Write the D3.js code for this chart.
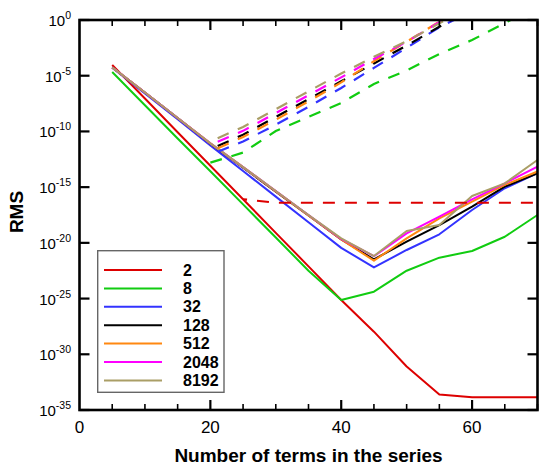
<!DOCTYPE html>
<html><head><meta charset="utf-8">
<script src="https://cdn.jsdelivr.net/npm/d3@7"></script>
<style>body{margin:0;background:#fff}svg{display:block}text{font-family:Arial,"Liberation Sans",Helvetica,sans-serif}</style>
</head><body>
<script>
// x: number of terms in the series
const terms = [5,10,15,20,25,30,35,40,45,50,55,60,65,70];
const seriesNames = ["2","8","32","128","512","2048","8192"];
// log10(RMS), solid lines
const solid2    = [-4.04,-7.05,-10.07,-13.08,-16.09,-19.1,-22.11,-25.13,-27.97,-31.1,-33.6,-33.86,-33.86,-33.86];
const solid8    = [-4.67,-7.65,-10.63,-13.58,-16.55,-19.52,-22.5,-25.13,-24.38,-22.5,-21.33,-20.73,-19.45,-17.5];
const solid32   = [-4.28,-6.6,-8.9,-11.25,-13.55,-15.85,-18.15,-20.45,-22.2,-20.64,-19.23,-17.05,-15.1,-13.75];
const solid128  = [-4.25,-6.5,-8.8,-11.1,-13.25,-15.4,-17.55,-19.7,-21.48,-19.9,-18.4,-16.75,-14.96,-13.76];
const solid512  = [-4.25,-6.5,-8.8,-11.07,-13.2,-15.38,-17.55,-19.7,-21.6,-19.6,-17.8,-16.3,-14.8,-13.6];
const solid2048 = [-4.25,-6.5,-8.8,-11.07,-13.2,-15.35,-17.5,-19.65,-21.2,-19.15,-17.65,-16.1,-14.66,-13.16];
const solid8192 = [-4.25,-6.5,-8.8,-11.07,-13.2,-15.35,-17.5,-19.6,-21.18,-18.94,-18.4,-15.8,-14.66,-12.56];
// log10(RMS), dashed lines (null = not drawn)
const dashed2    = [null,null,null,null,-16.09,-16.4,-16.4,-16.4,-16.4,-16.4,-16.4,-16.4,-16.4,-16.4];
const dashed8    = [null,null,null,-12.8,-11.9,-9.96,-8.7,-7.45,-5.74,-4.53,-3.05,-1.8,-0.27,1.2];
const dashed32   = [null,null,null,-12.1,-10.9,-9.4,-7.8,-6.1,-4.3,-2.5,-0.65,0.8,2.2,3.5];
const dashed128  = [null,null,null,-11.6,-10.3,-8.7,-7.1,-5.5,-3.9,-2.3,-0.6,1.0,2.5,3.5];
const dashed512  = [null,null,null,-11.8,-10.5,-8.95,-7.3,-5.6,-3.7,-1.95,-0.15,1.5,3,4];
const dashed2048 = [null,null,null,-11.2,-9.95,-8.35,-6.75,-5.15,-3.5,-1.95,-0.2,1.4,3,4];
const dashed8192 = [null,null,null,-10.9,-9.6,-8.0,-6.4,-4.8,-3.3,-1.9,-0.3,1.3,3,4];
const xTickLabels = [0,20,40,60];
const yTickExponents = [0,-5,-10,-15,-20,-25,-30,-35];

const solids = [solid2,solid8,solid32,solid128,solid512,solid2048,solid8192];
const dasheds = [dashed2,dashed8,dashed32,dashed128,dashed512,dashed2048,dashed8192];
const colors = ["#dd0000","#11cc11","#3333ff","#000000","#ff8811","#ff00ff","#aa9e66"];
const dashOffsets = [8,0,14,14,14,14,14];

const W=539,H=465, L=79.5, R=537.5, T=20, B=410;
const svg = d3.select("body").append("svg").attr("width",W).attr("height",H);
const x = d3.scaleLinear().domain([0,70]).range([L,R]);
const y = d3.scaleLog().domain([1e-35,1]).range([B,T]);

svg.append("clipPath").attr("id","clip").append("rect")
  .attr("x",L).attr("y",T).attr("width",R-L).attr("height",B-T);

const line = d3.line().defined(d=>d[1]!==null)
  .x(d=>x(d[0])).y(d=>y(Math.pow(10,d[1])));

const g = svg.append("g").attr("clip-path","url(#clip)");
solids.forEach((s,i)=>{
  g.append("path").attr("d",line(terms.map((t,j)=>[t,s[j]])))
    .attr("fill","none").attr("stroke",colors[i]).attr("stroke-width",2)
    .attr("stroke-linejoin","round");
});
dasheds.forEach((s,i)=>{
  g.append("path").attr("d",line(terms.map((t,j)=>[t,s[j]])))
    .attr("fill","none").attr("stroke",colors[i]).attr("stroke-width",2.2)
    .attr("stroke-dasharray","12,10").attr("stroke-dashoffset",dashOffsets[i]);
});

// ticks
const minorX = d3.range(0,71,5).filter(v=>v%20!==0);
const majorX = [20,40,60];
const tk = svg.append("g").attr("stroke","#000");
minorX.forEach(v=>{
  tk.append("line").attr("x1",x(v)).attr("x2",x(v)).attr("y1",B).attr("y2",B-6).attr("stroke-width",1.6);
  tk.append("line").attr("x1",x(v)).attr("x2",x(v)).attr("y1",T).attr("y2",T+6).attr("stroke-width",1.6);
});
majorX.forEach(v=>{
  tk.append("line").attr("x1",x(v)).attr("x2",x(v)).attr("y1",B).attr("y2",B-10).attr("stroke-width",2.2);
  tk.append("line").attr("x1",x(v)).attr("x2",x(v)).attr("y1",T).attr("y2",T+10).attr("stroke-width",2.2);
});
yTickExponents.forEach(e=>{
  const yy = y(Math.pow(10,e));
  tk.append("line").attr("x1",L).attr("x2",L+10).attr("y1",yy).attr("y2",yy).attr("stroke-width",2.2);
  tk.append("line").attr("x1",R).attr("x2",R-10).attr("y1",yy).attr("y2",yy).attr("stroke-width",2.2);
});
// frame
svg.append("rect").attr("x",L).attr("y",T).attr("width",R-L).attr("height",B-T)
  .attr("fill","none").attr("stroke","#000").attr("stroke-width",2.6);

// tick labels
xTickLabels.forEach(v=>{
  svg.append("text").attr("x",x(v)).attr("y",433).attr("text-anchor","middle")
    .attr("font-size",17).text(v);
});
yTickExponents.forEach(e=>{
  const yy = y(Math.pow(10,e));
  const t = svg.append("text").attr("x",71).attr("y",yy+6).attr("text-anchor","end").attr("font-size",15);
  t.append("tspan").text("10");
  t.append("tspan").attr("dy",-7).attr("font-size",10.5).text(e===0?"0":"-"+(-e));
});

// axis titles
svg.append("text").attr("x",(L+R)/2).attr("y",462).attr("text-anchor","middle")
  .attr("font-size",19).attr("font-weight","bold").text("Number of terms in the series");
svg.append("text").attr("transform","translate(23,212) rotate(-90)").attr("text-anchor","middle")
  .attr("font-size",19).attr("font-weight","bold").text("RMS");

// legend
const lg = svg.append("g");
lg.append("rect").attr("x",97.7).attr("y",250.7).attr("width",126.3).attr("height",141.6)
  .attr("fill","#fff").attr("stroke","#666").attr("stroke-width",1.4);
seriesNames.forEach((n,i)=>{
  const yy = 270 + i*18.4;
  lg.append("line").attr("x1",104).attr("x2",162).attr("y1",yy).attr("y2",yy)
    .attr("stroke",colors[i]).attr("stroke-width",2);
  lg.append("text").attr("x",183).attr("y",yy+5.5).attr("font-size",16).attr("font-weight","bold").text(n);
});
</script>
</body></html>
